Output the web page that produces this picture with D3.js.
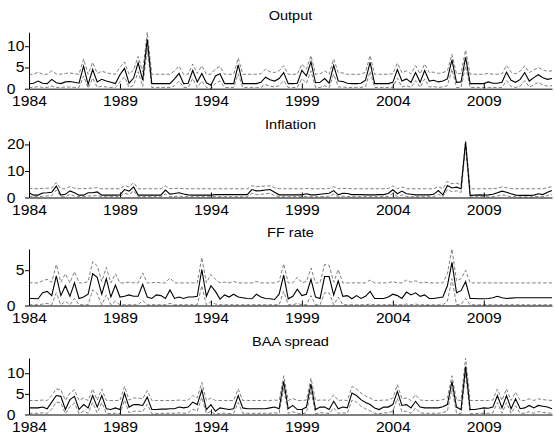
<!DOCTYPE html>
<html>
<head>
<meta charset="utf-8">
<script src="https://cdn.jsdelivr.net/npm/d3@7"></script>
<style>
  body { margin: 0; background: #fff; }
  svg { display: block; }
  text { font-family: "Liberation Sans", Arial, Helvetica, sans-serif; fill: #000; }
</style>
</head>
<body>
<svg id="chart"></svg>
<script>
// quarterly, 1984Q1 .. 2012Q4
const startYear = 1984;
const nQuarters = 116;
const yearTicks = [1984, 1989, 1994, 1999, 2004, 2009];

const titles = ["Output", "Inflation", "FF rate", "BAA spread"];
const yTicks = [[0, 5, 10], [0, 10, 20], [0, 5], [0, 5, 10]];

// Output
const outputMid = [1.2,1.3,1.8,1.3,1.2,2.2,1.4,1.2,1.6,1.7,1.5,1.3,
  5.3,1.0,4.5,1.6,2.2,1.8,1.5,1.2,3.3,4.8,1.3,2.5,
  6.1,2.0,11.6,1.2,1.2,1.2,1.2,1.2,2.3,3.6,1.2,1.3,
  4.3,1.6,3.6,1.4,0.8,3.0,3.5,1.2,1.2,1.2,5.6,1.2,
  1.2,1.2,1.2,1.5,2.7,2.1,1.8,2.4,3.8,1.2,1.2,1.3,
  4.3,3.0,6.3,1.4,1.5,2.4,1.3,5.5,1.8,1.7,1.3,1.2,
  1.2,1.3,2.0,6.2,1.2,1.2,1.2,1.2,1.5,4.5,1.8,2.3,
  1.5,3.8,1.5,4.3,1.8,2.0,1.6,1.8,2.3,6.8,1.5,1.6,
  7.4,1.2,1.2,1.2,1.2,1.6,1.3,1.3,1.5,3.9,2.0,1.5,
  2.2,3.8,1.8,2.6,3.3,2.6,2.2,2.4];
const outputUp = [3.4,3.4,3.9,3.4,3.4,4.2,3.5,3.4,3.6,3.7,3.5,3.4,
  7.0,3.4,6.2,3.6,4.1,3.8,3.5,3.4,5.0,6.3,3.4,4.4,
  7.6,3.9,13.3,3.4,3.4,3.4,3.4,3.4,4.2,5.3,3.4,3.4,
  5.8,3.6,5.4,3.4,3.4,4.7,5.2,3.4,3.4,3.4,7.2,3.4,
  3.4,3.4,3.4,3.5,4.6,4.0,3.8,4.2,5.4,3.4,3.4,3.4,
  5.8,4.6,7.8,3.4,3.5,4.2,3.4,7.0,3.8,3.7,3.4,3.4,
  3.4,3.4,3.9,7.8,3.4,3.4,3.4,3.4,3.5,6.0,3.8,4.2,
  3.5,5.4,3.5,5.8,3.8,3.9,3.6,3.8,4.2,8.1,3.5,3.6,
  9.1,3.4,3.4,3.4,3.4,3.6,3.4,3.4,3.5,5.5,3.9,3.5,
  4.1,5.4,3.8,4.4,5.0,4.4,4.1,4.2];
const outputLo = [0.3,0.3,0.5,0.3,0.3,0.6,0.3,0.3,0.4,0.4,0.3,0.3,
  3.0,0.1,2.5,0.3,0.6,0.4,0.3,0.3,1.6,2.8,0.3,0.8,
  4.0,0.5,9.5,0.3,0.3,0.3,0.3,0.3,0.7,1.8,0.3,0.3,
  2.4,0.3,1.8,0.3,0.0,1.3,1.8,0.3,0.3,0.3,3.5,0.3,
  0.3,0.3,0.3,0.3,1.0,0.6,0.4,0.7,1.9,0.3,0.3,0.3,
  2.4,1.3,4.2,0.3,0.3,0.7,0.3,3.4,0.4,0.4,0.3,0.3,
  0.3,0.3,0.5,4.1,0.3,0.3,0.3,0.3,0.3,2.5,0.4,0.7,
  0.3,1.9,0.3,2.3,0.4,0.5,0.3,0.4,0.7,4.6,0.3,0.3,
  5.3,0.3,0.3,0.3,0.3,0.3,0.3,0.3,0.3,1.9,0.5,0.3,
  0.6,1.9,0.4,0.9,1.5,0.9,0.6,0.7];

// Inflation
const inflationMid = [1.8,0.9,0.9,1.7,1.8,2.0,4.3,0.9,1.2,2.5,1.8,0.9,
  0.9,1.8,1.8,2.1,0.9,0.9,0.9,0.9,1.0,3.0,2.4,4.0,
  0.9,0.9,0.9,0.9,0.9,0.9,2.8,1.3,1.5,1.8,1.3,1.0,
  0.9,0.9,0.9,0.9,0.9,1.1,1.1,1.1,1.1,1.1,1.1,1.1,
  1.1,3.0,2.5,2.6,2.8,3.0,2.0,1.0,1.0,1.0,1.0,1.0,
  1.0,1.4,1.0,1.0,1.2,1.4,1.6,2.6,1.0,1.6,1.5,1.1,
  1.1,1.1,1.0,1.0,1.0,1.1,1.1,1.5,2.9,1.4,2.4,1.4,
  1.2,1.0,1.0,1.0,1.0,1.2,2.6,1.0,4.5,3.6,3.9,3.3,
  20.9,0.8,0.9,1.0,0.9,1.0,1.2,1.8,2.4,2.0,1.4,0.9,
  0.8,0.8,0.8,0.9,1.4,1.1,2.0,2.6];
const inflationUp = [3.5,3.3,3.3,3.4,3.5,3.6,5.6,3.3,3.3,4.1,3.5,3.3,
  3.3,3.5,3.5,3.7,3.3,3.3,3.3,3.3,3.3,4.5,4.0,5.6,
  3.3,3.3,3.3,3.3,3.3,3.3,4.3,3.3,3.4,3.5,3.3,3.3,
  3.3,3.3,3.3,3.3,3.3,3.3,3.3,3.3,3.3,3.3,3.3,3.3,
  3.3,4.4,4.1,4.2,4.3,4.4,3.7,3.3,3.3,3.3,3.3,3.3,
  3.3,3.4,3.3,3.3,3.3,3.3,3.4,4.1,3.3,3.4,3.4,3.3,
  3.3,3.3,3.3,3.3,3.3,3.3,3.3,3.4,4.4,3.3,4.0,3.3,
  3.3,3.3,3.3,3.3,3.3,3.3,4.1,3.3,6.1,5.2,5.4,4.8,
  21.3,3.3,3.3,3.3,3.3,3.3,3.3,3.5,4.0,3.7,3.3,3.3,
  3.3,3.3,3.3,3.3,3.3,3.3,3.7,4.1];
const inflationLo = [0.6,0.3,0.3,0.5,0.6,0.7,2.8,0.3,0.3,1.2,0.6,0.3,
  0.3,0.6,0.6,0.8,0.3,0.3,0.3,0.3,0.3,1.6,1.1,2.5,
  0.3,0.3,0.3,0.3,0.3,0.3,1.3,0.3,0.4,0.6,0.3,0.3,
  0.3,0.3,0.3,0.3,0.3,0.3,0.3,0.3,0.3,0.3,0.3,0.3,
  0.3,1.6,1.1,1.2,1.4,1.6,0.7,0.3,0.3,0.3,0.3,0.3,
  0.3,0.4,0.3,0.3,0.3,0.4,0.5,1.2,0.3,0.5,0.4,0.3,
  0.3,0.3,0.3,0.3,0.3,0.3,0.3,0.4,1.5,0.4,1.0,0.4,
  0.3,0.3,0.3,0.3,0.3,0.3,1.2,0.3,3.0,2.2,2.5,1.9,
  19.5,0.2,0.3,0.3,0.3,0.3,0.3,0.6,1.0,0.7,0.3,0.3,
  0.2,0.2,0.2,0.3,0.4,0.3,0.7,1.2];

// FF rate
const ffMid = [1.0,1.0,0.95,1.8,2.0,1.4,4.2,1.4,2.8,1.3,3.2,1.0,
  1.2,1.6,4.5,4.0,1.6,3.8,1.2,2.9,1.2,1.3,1.5,1.3,
  1.3,3.0,1.2,1.0,1.5,1.4,1.0,2.2,1.0,1.2,1.0,1.2,
  1.2,1.3,5.1,1.3,2.8,2.0,0.9,1.5,1.2,1.6,1.2,1.1,
  1.0,0.95,1.6,1.2,1.0,0.95,0.85,1.6,4.3,0.95,1.3,2.3,
  1.4,1.6,3.7,1.2,1.0,4.1,4.1,1.5,3.5,1.3,1.4,0.95,
  1.4,1.0,1.3,2.0,1.0,1.0,1.0,1.2,1.6,1.4,1.0,1.9,
  1.5,1.8,1.3,1.5,1.0,1.0,1.1,1.2,2.8,6.1,1.8,2.1,
  3.4,1.0,1.0,0.95,0.95,1.0,1.1,1.3,1.1,1.0,1.05,1.1,
  1.1,1.1,1.1,1.1,1.1,1.1,1.1,1.1];
const ffUp = [3.2,3.2,3.2,3.5,3.7,3.3,5.8,3.3,4.5,3.2,4.8,3.2,
  3.2,3.4,6.2,5.6,3.4,5.4,3.2,4.5,3.2,3.2,3.3,3.2,
  3.2,4.6,3.2,3.2,3.3,3.2,3.2,3.9,3.2,3.2,3.2,3.2,
  3.2,3.2,6.8,3.2,4.4,3.7,3.2,3.3,3.2,3.4,3.2,3.2,
  3.2,3.2,3.4,3.2,3.2,3.2,3.2,3.4,5.9,3.2,3.2,4.0,
  3.2,3.4,5.3,3.2,3.2,5.8,5.7,3.3,5.1,3.2,3.2,3.2,
  3.2,3.2,3.2,3.6,3.2,3.2,3.2,3.2,3.4,3.2,3.2,3.6,
  3.3,3.5,3.2,3.3,3.2,3.2,3.2,3.2,4.5,8.0,3.5,3.8,
  5.0,3.2,3.2,3.2,3.2,3.2,3.2,3.2,3.2,3.2,3.2,3.2,
  3.2,3.2,3.2,3.2,3.2,3.2,3.2,3.2];
const ffLo = [0.1,0.1,0.1,0.2,0.3,0.1,1.8,0.1,0.6,0.1,1.0,0.1,
  0.1,0.1,2.2,1.7,0.1,1.5,0.1,0.6,0.1,0.1,0.1,0.1,
  0.1,0.7,0.1,0.1,0.1,0.1,0.1,0.3,0.1,0.1,0.1,0.1,
  0.1,0.1,2.8,0.1,0.5,0.2,0.1,0.1,0.1,0.1,0.1,0.1,
  0.1,0.1,0.1,0.1,0.1,0.1,0.1,0.1,2.0,0.1,0.1,0.3,
  0.1,0.1,1.4,0.1,0.1,1.8,1.8,0.1,1.2,0.1,0.1,0.1,
  0.1,0.1,0.1,0.2,0.1,0.1,0.1,0.1,0.1,0.1,0.1,0.2,
  0.1,0.2,0.1,0.1,0.1,0.1,0.1,0.1,0.6,3.8,0.1,0.2,
  1.0,0.1,0.1,0.1,0.1,0.1,0.1,0.1,0.1,0.1,0.1,0.1,
  0.1,0.1,0.1,0.1,0.1,0.1,0.1,0.1];

// BAA spread
const baaMid = [1.6,1.6,1.6,1.8,1.4,3.0,4.6,4.4,1.2,3.6,4.4,1.2,
  2.4,1.6,4.6,1.8,4.6,1.4,1.2,1.6,1.2,5.2,1.8,2.4,
  2.4,2.2,4.2,1.2,1.2,1.3,1.3,1.4,1.4,1.8,1.6,1.8,
  3.0,2.4,6.0,1.2,2.4,0.8,1.6,1.4,1.2,1.4,4.6,1.6,
  1.4,1.4,1.4,1.4,1.4,1.6,1.8,1.4,8.0,1.4,2.2,1.2,
  1.2,1.8,7.4,1.2,1.8,1.8,1.2,3.2,1.4,1.8,1.6,5.2,
  4.6,3.6,2.9,2.4,1.6,1.2,1.8,1.8,2.4,5.6,2.2,2.4,
  1.6,3.2,1.8,1.6,1.6,1.6,1.6,1.9,2.4,8.0,1.8,1.2,
  11.6,1.2,1.2,1.4,1.6,1.5,1.8,4.6,1.6,4.6,1.4,3.8,
  1.4,1.6,2.2,1.6,2.2,2.0,1.8,1.4];
const baaUp = [3.4,3.4,3.4,3.5,3.4,4.6,6.2,6.0,3.4,5.2,6.0,3.4,
  4.0,3.4,6.2,3.5,6.2,3.4,3.4,3.4,3.4,6.8,3.5,4.0,
  4.0,3.8,5.8,3.4,3.4,3.4,3.4,3.4,3.4,3.5,3.4,3.5,
  4.6,4.0,7.8,3.4,4.0,3.4,3.4,3.4,3.4,3.4,6.2,3.4,
  3.4,3.4,3.4,3.4,3.4,3.4,3.5,3.4,9.4,3.4,3.9,3.4,
  3.4,3.5,8.8,3.4,3.5,3.5,3.4,4.8,3.4,3.5,3.4,6.8,
  6.2,5.2,4.5,4.0,3.4,3.4,3.5,3.5,4.0,7.2,3.8,4.0,
  3.4,4.8,3.5,3.4,3.4,3.4,3.4,3.6,4.0,9.4,3.5,3.4,
  13.7,3.4,3.4,3.4,3.4,3.4,3.5,6.2,3.4,6.2,3.4,5.4,
  3.4,3.4,3.8,3.4,3.8,3.6,3.5,3.4];
const baaLo = [0.3,0.3,0.3,0.4,0.3,1.3,3.0,2.8,0.2,1.9,2.8,0.2,
  0.8,0.3,2.9,0.4,2.9,0.3,0.2,0.3,0.2,3.5,0.4,0.8,
  0.8,0.7,2.5,0.2,0.2,0.3,0.3,0.3,0.3,0.4,0.3,0.4,
  1.3,0.8,4.2,0.2,0.8,0.0,0.3,0.3,0.2,0.3,2.9,0.3,
  0.3,0.3,0.3,0.3,0.3,0.3,0.4,0.3,6.4,0.3,0.7,0.2,
  0.2,0.4,5.8,0.2,0.4,0.4,0.2,1.6,0.3,0.4,0.3,3.5,
  3.0,2.0,1.4,0.9,0.3,0.2,0.4,0.4,0.8,3.9,0.7,0.8,
  0.3,1.6,0.4,0.3,0.3,0.3,0.3,0.5,0.8,6.3,0.4,0.2,
  9.9,0.2,0.2,0.3,0.3,0.3,0.4,2.9,0.3,2.9,0.3,2.1,
  0.3,0.3,0.7,0.3,0.7,0.5,0.4,0.3];

const panels = [
  { title: titles[0], ticks: yTicks[0], mid: outputMid, up: outputUp, lo: outputLo },
  { title: titles[1], ticks: yTicks[1], mid: inflationMid, up: inflationUp, lo: inflationLo },
  { title: titles[2], ticks: yTicks[2], mid: ffMid, up: ffUp, lo: ffLo },
  { title: titles[3], ticks: yTicks[3], mid: baaMid, up: baaUp, lo: baaLo }
];

const width = 555, height = 435;
const left = 29, right = 552;
const bottoms = [88.7, 197.5, 305.5, 414.5];
const panelH = 56.5;
const sx = 1.12; // text is a bit wide in the original

const svg = d3.select("#chart").attr("width", width).attr("height", height);

const dates = d3.range(nQuarters).map(i => startYear + i / 4);
const x = d3.scaleLinear().domain([startYear, dates[dates.length - 1]]).range([left, right]);

panels.forEach((p, k) => {
  const bottom = bottoms[k];
  const y = d3.scaleLinear().domain([0, d3.max(p.up)]).range([bottom, bottom - panelH]);
  const g = svg.append("g");

  const line = d3.line().x((d, i) => x(dates[i])).y(d => y(d));

  // bands
  [p.up, p.lo].forEach(s => {
    g.append("path")
      .attr("d", line(s))
      .attr("fill", "none")
      .attr("stroke", "#7f7f7f")
      .attr("stroke-width", 1)
      .attr("stroke-dasharray", "3.5,2");
  });
  // median
  g.append("path")
    .attr("d", line(p.mid))
    .attr("fill", "none")
    .attr("stroke", "#000")
    .attr("stroke-width", 1.1);

  // x axis, ticks pointing in
  const xa = g.append("g")
    .attr("transform", `translate(0,${bottom})`)
    .call(d3.axisBottom(x).tickValues(yearTicks).tickFormat(d3.format("d"))
      .tickSizeInner(-5).tickSizeOuter(0).tickPadding(7.5));
  xa.selectAll("text").attr("font-size", 14).attr("transform", `scale(${sx},1)`);

  // y axis
  const ya = g.append("g")
    .attr("transform", `translate(${left},0)`)
    .call(d3.axisLeft(y).tickValues(p.ticks).tickSizeInner(4).tickSizeOuter(0).tickPadding(1));
  ya.selectAll("text")
    .attr("font-size", 14)
    .attr("transform", `scale(${sx},1)`)
    .attr("x", d => (d === 0 ? -13.5 : -4.5) / sx)
    .attr("y", d => d === 0 ? 0.3 : 0)
    .attr("dy", "0.32em");

  g.selectAll(".domain, .tick line").attr("stroke", "#000").attr("stroke-width", 1);
  g.selectAll(".tick text").attr("fill", "#000");
  xa.attr("font-family", null);
  ya.attr("font-family", null);

  // title
  g.append("text")
    .attr("transform", `translate(${(left + right) / 2},${bottom - panelH - 12.5}) scale(${sx},1)`)
    .attr("text-anchor", "middle")
    .attr("font-size", 13)
    .text(p.title);
});
</script>
</body>
</html>
